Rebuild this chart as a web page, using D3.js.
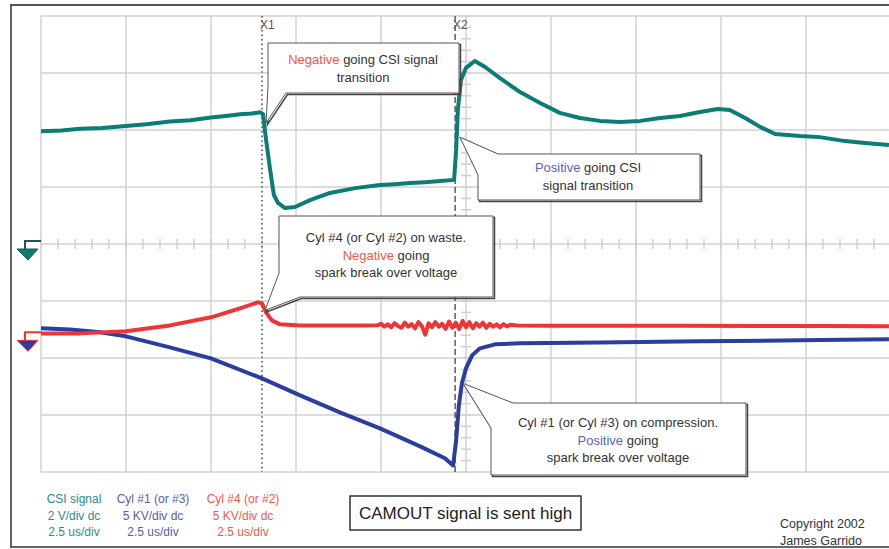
<!DOCTYPE html>
<html>
<head>
<meta charset="utf-8">
<script src="https://cdn.jsdelivr.net/npm/d3@7/dist/d3.min.js"></script>
<style>
  body { margin: 0; background: #fff; }
  svg text { font-family: "Liberation Sans", Arial, sans-serif; }
</style>
</head>
<body>
<div id="scope"></div>
<script>
// scope settings: 2.5 us/div across 10 div, 8 div vertical
var timeTicks = [0, 2.5, 5, 7.5, 10, 12.5, 15, 17.5, 20, 22.5, 25];
var divTicks = [-4, -3, -2, -1, 0, 1, 2, 3, 4];
var cursorX1 = 6.5;     // us
var cursorX2 = 12.18;   // us

// CSI signal, volts (2 V/div)
var csiTime = [0, 0.6, 1.15, 1.8, 2.5, 3.1, 3.79, 4.4, 5.0, 5.5, 5.85, 6.2, 6.44, 6.53, 6.62, 6.74, 6.85, 6.97, 7.18, 7.47, 7.91, 8.5, 9.24, 9.97, 10.4, 10.85, 11.3, 11.74, 12.15,
  12.21, 12.26, 12.35, 12.5, 12.76, 13.06, 13.5, 14.09, 14.68, 15.26, 15.85, 16.44, 17.03, 17.62, 18.21, 18.79, 19.38, 19.91, 20.26, 20.71, 21.15, 21.59, 22.32, 22.91, 23.65, 24.24, 24.94];
var csiVolts = [3.96, 3.98, 4.04, 4.07, 4.14, 4.2, 4.3, 4.34, 4.44, 4.5, 4.55, 4.58, 4.62, 4.56, 3.65, 2.6, 1.72, 1.44, 1.26, 1.3, 1.54, 1.79, 1.96, 2.07, 2.1, 2.14, 2.17, 2.21, 2.25,
  3.3, 4.7, 5.75, 6.18, 6.42, 6.21, 5.82, 5.33, 4.95, 4.6, 4.42, 4.32, 4.28, 4.32, 4.42, 4.49, 4.63, 4.74, 4.7, 4.42, 4.11, 3.86, 3.79, 3.75, 3.61, 3.54, 3.47];

// Cyl #1 (or #3), kV (5 KV/div)
var cyl1Time = [0, 0.85, 1.74, 2.5, 3.79, 5.0, 6.5, 7.62, 8.79, 9.97, 11.15, 11.88, 12.12, 12.21, 12.29, 12.38, 12.5, 12.68, 12.91, 13.35, 14.09, 16.44, 19.38, 22.32, 24.94];
var cyl1KV = [0.35, 0.26, 0, -0.35, -1.32, -2.28, -4.04, -5.53, -7.02, -8.42, -10.0, -11.05, -11.67, -9.47, -6.4, -4.47, -3.16, -2.02, -1.4, -1.05, -0.96, -0.88, -0.79, -0.7, -0.61];

// Cyl #4 (or #2), kV (5 KV/div)
var cyl4Time = [0, 1.15, 2.5, 3.79, 5.0, 5.85, 6.38, 6.5, 6.62, 6.79, 7.03, 7.62, 8.5, 9.4, 9.9,
  10.0, 10.1, 10.2, 10.3, 10.4, 10.5, 10.6, 10.7, 10.8, 10.9, 11.0, 11.1, 11.2, 11.3, 11.4, 11.5, 11.6, 11.7, 11.8, 11.9,
  12.0, 12.1, 12.2, 12.3, 12.4, 12.5, 12.6, 12.7, 12.8, 12.9, 13.0, 13.1, 13.2, 13.3, 13.4, 13.5, 13.6, 13.7, 13.8, 14.0,
  15.0, 17.0, 19.0, 21.0, 23.0, 24.94];
var cyl4KV = [-0.09, -0.09, 0.09, 0.61, 1.32, 2.11, 2.63, 2.54, 1.75, 1.05, 0.7, 0.61, 0.61, 0.6, 0.62,
  0.75, 0.5, 0.7, 0.45, 0.8, 0.55, 0.4, 0.85, 0.5, 0.72, 0.35, 0.9, 0.55, -0.2, 0.8, 0.45, 0.9, 0.5, 0.75, 0.3,
  0.95, 0.4, 0.85, 0.3, 1.0, 0.45, 0.9, 0.35, 0.8, 0.5, 0.85, 0.4, 0.75, 0.5, 0.7, 0.45, 0.72, 0.52, 0.66, 0.6,
  0.58, 0.58, 0.57, 0.56, 0.55, 0.53];

var legendTitles = ["CSI signal", "Cyl #1 (or #3)", "Cyl #4 (or #2)"];
var legendScales = ["2 V/div dc", "5 KV/div dc", "5 KV/div dc"];
var legendTimebase = ["2.5 us/div", "2.5 us/div", "2.5 us/div"];

var teal = "#0a7d74", blue = "#2b3d9f", red = "#ee3434";
var legendColors = ["#2a8d85", "#5a5ab4", "#f2584a"];

var width = 889, height = 549;
var plotLeft = 41, plotTop = 16, plotW = 850, plotH = 456;

var svg = d3.select("#scope").append("svg")
  .attr("width", width)
  .attr("height", height);

var x = d3.scaleLinear().domain([0, 25]).range([plotLeft, plotLeft + plotW]);
var yDiv = d3.scaleLinear().domain([-4, 4]).range([plotTop + plotH, plotTop]);
var yCSI = d3.scaleLinear().domain([-8, 8]).range([plotTop + plotH, plotTop]);
var kvGroundDiv = -1.55;
var yKV = d3.scaleLinear().domain([(-4 - kvGroundDiv) * 5, (4 - kvGroundDiv) * 5]).range([plotTop + plotH, plotTop]);

// outer frame
svg.append("line").attr("x1", 11).attr("x2", width).attr("y1", 5).attr("y2", 5)
  .style("stroke", "#555").style("stroke-width", 2);
svg.append("line").attr("x1", 11).attr("x2", 11).attr("y1", 4).attr("y2", 548)
  .style("stroke", "#333").style("stroke-width", 1.5);
svg.append("line").attr("x1", 11).attr("x2", width).attr("y1", 547).attr("y2", 547)
  .style("stroke", "#333").style("stroke-width", 1.5);

// graticule
var grid = svg.append("g").attr("class", "grid");
grid.selectAll(".vline").data(timeTicks).enter().append("line")
  .attr("x1", function(d) { return x(d); })
  .attr("x2", function(d) { return x(d); })
  .attr("y1", yDiv(4)).attr("y2", yDiv(-4))
  .style("stroke", "#d2d2d2").style("stroke-width", 1.5);
grid.selectAll(".hline").data(divTicks).enter().append("line")
  .attr("x1", x(0)).attr("x2", x(25))
  .attr("y1", function(d) { return yDiv(d); })
  .attr("y2", function(d) { return yDiv(d); })
  .style("stroke", "#d2d2d2").style("stroke-width", 1.5);

// minor ticks on the centre lines (5 per div)
var minorT = d3.range(0, 25.001, 0.5);
grid.selectAll(".tickh").data(minorT).enter().append("line")
  .attr("x1", function(d) { return x(d); })
  .attr("x2", function(d) { return x(d); })
  .attr("y1", yDiv(0) - 5).attr("y2", yDiv(0) + 5)
  .style("stroke", "#cfcfcf").style("stroke-width", 1.5);
var minorD = d3.range(-4, 4.001, 0.2);
grid.selectAll(".tickv").data(minorD).enter().append("line")
  .attr("x1", x(12.5) - 5).attr("x2", x(12.5) + 5)
  .attr("y1", function(d) { return yDiv(d); })
  .attr("y2", function(d) { return yDiv(d); })
  .style("stroke", "#cfcfcf").style("stroke-width", 1.5);

// cursors
svg.append("line").attr("x1", x(cursorX1)).attr("x2", x(cursorX1))
  .attr("y1", plotTop).attr("y2", plotTop + plotH)
  .style("stroke", "#555").style("stroke-width", 1.6).style("stroke-dasharray", "1.6,3");
svg.append("line").attr("x1", x(cursorX2)).attr("x2", x(cursorX2))
  .attr("y1", plotTop).attr("y2", plotTop + plotH)
  .style("stroke", "#444").style("stroke-width", 1.3).style("stroke-dasharray", "6,3");
svg.append("text").attr("x", x(cursorX1) - 2).attr("y", 29).text("X1")
  .style("font-size", "12px").style("fill", "#555");
svg.append("text").attr("x", x(cursorX2) - 2).attr("y", 29).text("X2")
  .style("font-size", "12px").style("fill", "#555");

// traces
function trace(times, vals, yScale, color) {
  var pts = times.map(function(t, i) { return [t, vals[i]]; });
  var line = d3.line()
    .x(function(d) { return x(d[0]); })
    .y(function(d) { return yScale(d[1]); });
  svg.append("path").datum(pts)
    .attr("d", line)
    .style("fill", "none")
    .style("stroke", color)
    .style("stroke-width", 4)
    .style("stroke-linejoin", "round");
}
trace(cyl1Time, cyl1KV, yKV, blue);
trace(cyl4Time, cyl4KV, yKV, red);
trace(csiTime, csiVolts, yCSI, teal);

// ground markers
function groundMarker(yPix, lineColor, fillColor) {
  var g = svg.append("g");
  g.append("path")
    .attr("d", "M" + plotLeft + "," + yPix + " H25 V" + (yPix + 8))
    .style("fill", "none").style("stroke", lineColor).style("stroke-width", 2);
  g.append("path")
    .attr("d", "M17," + (yPix + 8) + " L38," + (yPix + 8) + " L28," + (yPix + 19) + " Z")
    .style("fill", fillColor).style("stroke", lineColor).style("stroke-width", 1);
}
groundMarker(yCSI(0) - 3, "#245550", teal);
groundMarker(yKV(0), red, blue);

// callouts
var callouts = [
  { pts: [[268, 43], [459, 43], [459, 93], [286, 93], "tip", [268, 86]],
    tip: [x(6.62), yCSI(4.25)], cx: 363, y0: 64,
    lines: [[["Negative", "#f2584a"], [" going CSI signal", "#333"]], [["transition", "#333"]]] },
  { pts: [[498, 154], [700, 154], [700, 200], [478, 200], [478, 175], "tip"],
    tip: [x(12.32), yCSI(3.75)], cx: 588, y0: 172,
    lines: [[["Positive", "#5a5fc4"], [" going CSI", "#333"]], [["signal transition", "#333"]]] },
  { pts: [[279, 216], [493, 216], [493, 297], [300, 297], "tip", [279, 273]],
    tip: [x(6.59), yKV(1.93)], cx: 386, y0: 242,
    lines: [[["Cyl #4 (or Cyl #2) on waste.", "#333"]], [["Negative", "#f2584a"], [" going", "#333"]], [["spark break over voltage", "#333"]]] },
  { pts: [[513, 403], [746, 403], [746, 475], [491, 475], [491, 428], "tip"],
    tip: [x(12.41), yKV(-4.47)], cx: 618, y0: 427,
    lines: [[["Cyl #1 (or Cyl #3) on compression.", "#333"]], [["Positive", "#5a5fc4"], [" going", "#333"]], [["spark break over voltage", "#333"]]] }
];

callouts.forEach(function(c) {
  var poly = c.pts.map(function(p) { return p === "tip" ? c.tip : p; });
  var path = "M" + poly.map(function(p) { return p[0] + "," + p[1]; }).join("L") + "Z";
  svg.append("path").attr("d", path).attr("transform", "translate(1.5,1.5)")
    .style("fill", "none").style("stroke", "#444").style("stroke-width", 1.5);
  svg.append("path").attr("d", path)
    .style("fill", "#fff").style("stroke", "#555").style("stroke-width", 1);
  c.lines.forEach(function(ln, i) {
    var t = svg.append("text")
      .attr("x", c.cx).attr("y", c.y0 + i * 17.5)
      .attr("text-anchor", "middle")
      .style("font-size", "13px");
    ln.forEach(function(seg) {
      t.append("tspan").text(seg[0]).style("fill", seg[1]);
    });
  });
});

// legend
var legendX = [74, 153, 243];
legendTitles.forEach(function(d, i) {
  var rows = [d, legendScales[i], legendTimebase[i]];
  rows.forEach(function(r, j) {
    svg.append("text")
      .attr("x", legendX[i]).attr("y", 503 + j * 16.5)
      .attr("text-anchor", "middle")
      .text(r)
      .style("fill", legendColors[i])
      .style("font-size", "12px");
  });
});

// CAMOUT note
svg.append("rect").attr("x", 350).attr("y", 496).attr("width", 231).attr("height", 34)
  .style("fill", "#fff").style("stroke", "#333").style("stroke-width", 1.5);
svg.append("text").attr("x", 465.5).attr("y", 519).attr("text-anchor", "middle")
  .text("CAMOUT signal is sent high")
  .style("font-size", "17px").style("fill", "#222");

svg.append("text").attr("x", 780).attr("y", 528).text("Copyright 2002")
  .style("font-size", "12.5px").style("fill", "#333");
svg.append("text").attr("x", 780).attr("y", 545).text("James Garrido")
  .style("font-size", "12.5px").style("fill", "#333");
</script>
</body>
</html>
